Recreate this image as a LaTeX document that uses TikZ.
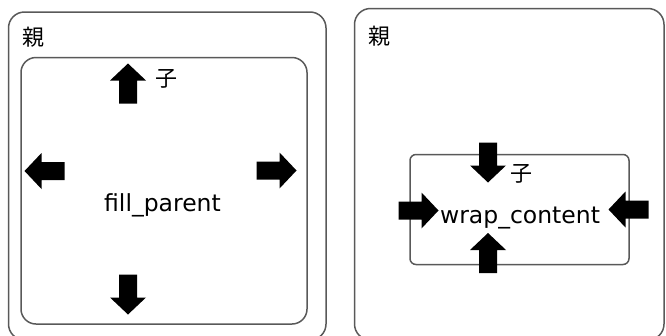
\documentclass[tikz,border=0pt]{standalone}
\usepackage{fontspec}
\setmainfont{DejaVu Sans}
\newfontfamily\jp{Noto Sans CJK JP}

\begin{document}
\begin{tikzpicture}[x=1pt, y=-1pt,
  box/.style={draw=black!65, line width=1.5pt},
  lbl/.style={inner sep=0pt, font=\jp\fontsize{22}{25}\selectfont},
  txt/.style={inner sep=0pt, anchor=base, font=\fontsize{23.5}{27}\selectfont},
  blk/.pic={\fill (-20,-9) -- (3,-9) -- (3,-18) -- (20,0) -- (3,18) -- (3,9) -- (-20,9) -- cycle;}]
  \clip (0,0) rectangle (666,335);

  % 左: fill_parent
  \draw[box, rounded corners=16pt] (8.5,12) rectangle (326,340);
  \draw[box, rounded corners=15pt] (21,57.5) rectangle (307,324);
  \node[lbl] (oya1) at (33.5,37) {親};
  \node[lbl] (ko1) at (166,79) {子};
  \node[txt] (fill) at (162.5,211) {fill\_parent};
  \pic[rotate=90]  at (128,83.5)  {blk};
  \pic[rotate=180] at (44.5,171)  {blk};
  \pic             at (276.5,170.5) {blk};
  \pic[rotate=-90] at (128,294.5) {blk};

  % 右: wrap_content
  \draw[box, rounded corners=16pt] (354.5,8.5) rectangle (664,340);
  \draw[box, rounded corners=6pt] (410,154.5) rectangle (629,264.5);
  \node[lbl] (oya2) at (379.5,36) {親};
  \node[lbl] (ko2) at (521,174) {子};
  \node[txt] (wrap) at (520,223) {wrap\_content};
  \pic[rotate=-90] at (488,162.5) {blk};
  \pic             at (418.5,210.5) {blk};
  \pic[rotate=180] at (628.5,209.5) {blk};
  \pic[rotate=90]  at (488,253) {blk};
\end{tikzpicture}
\end{document}
